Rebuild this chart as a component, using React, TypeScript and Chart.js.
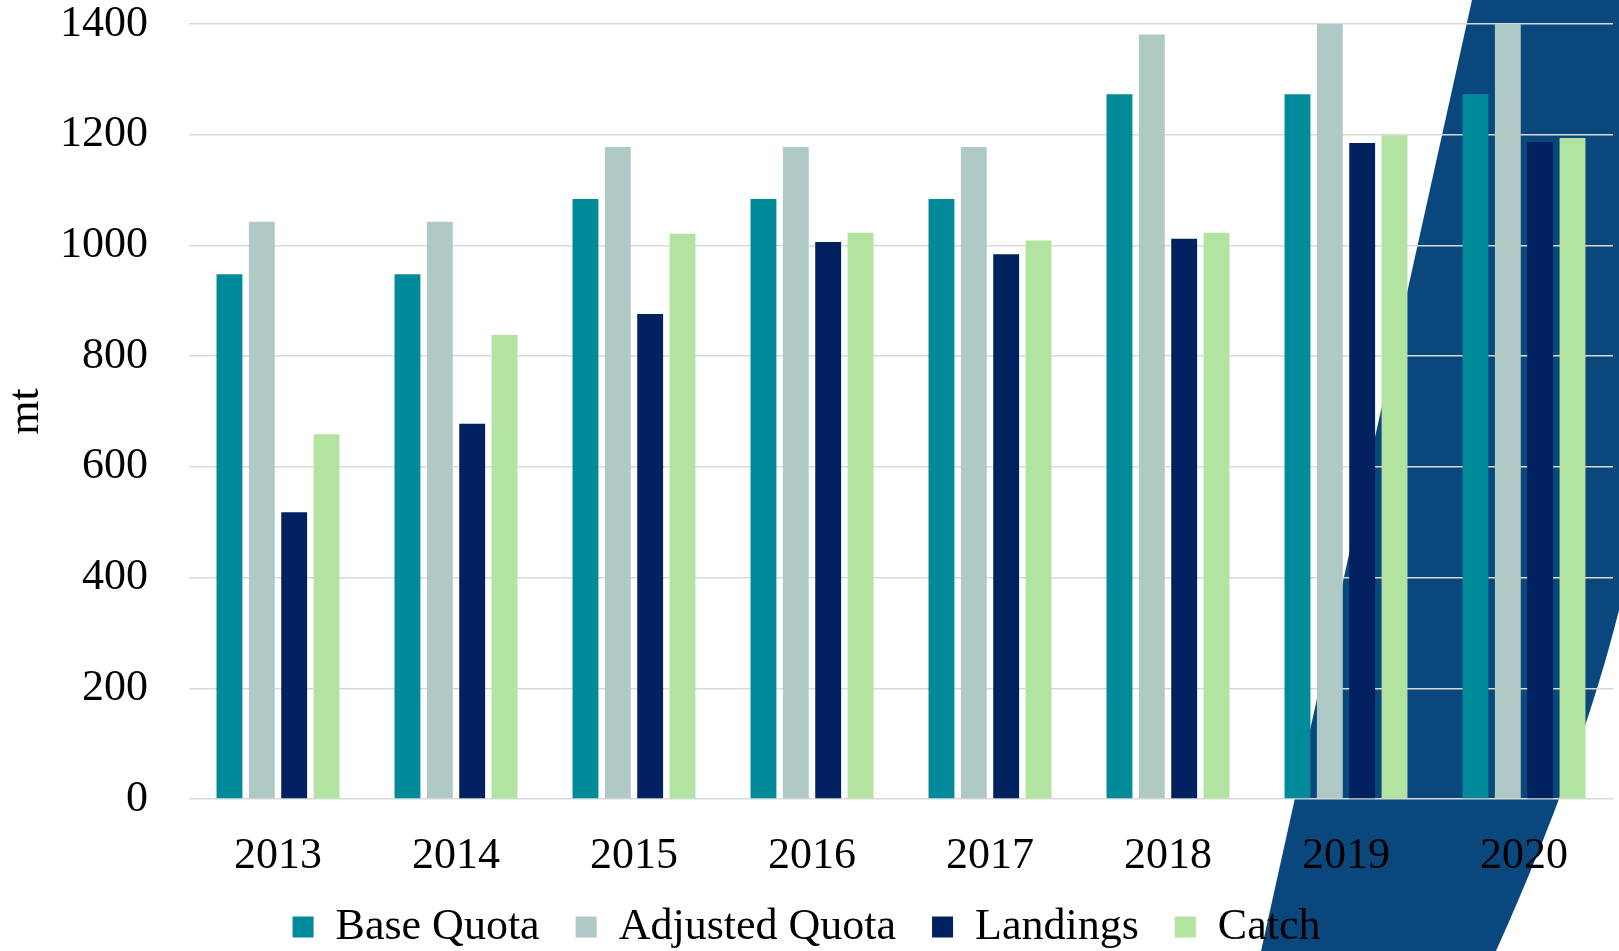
import React, { useEffect, useRef } from "react";
import { Chart, registerables } from "chart.js";

Chart.register(...registerables);

const categories = ["2013", "2014", "2015", "2016", "2017", "2018", "2019", "2020"];
const baseQuota = [948, 948, 1084, 1084, 1084, 1273, 1273, 1273];
const adjustedQuota = [1043, 1043, 1178, 1178, 1178, 1381, 1400, 1400];
const landings = [518, 678, 876, 1006, 984, 1012, 1185, 1187];
const catchValues = [659, 838, 1021, 1023, 1009, 1023, 1199, 1194];
const seriesNames = ["Base Quota", "Adjusted Quota", "Landings", "Catch"];
const seriesColors = ["#008A9A", "#AFCAC5", "#012160", "#B3E3A0"];
const yMin = 0;
const yMax = 1400;
const yStep = 200;
const yTitle = "mt";

const FONT_FAMILY = "'Liberation Serif', 'Times New Roman', serif";

const backdropPlugin = {
  id: "backdrop",
  beforeDraw(chart: any) {
    const { ctx, width: w, height: h } = chart;
    ctx.save();
    ctx.fillStyle = "#ffffff";
    ctx.fillRect(0, 0, w, h);
    ctx.fillStyle = "#09477D";
    ctx.beginPath();
    ctx.moveTo(w * 0.9092, 0);
    ctx.lineTo(w, 0);
    ctx.lineTo(w, h * 0.6414);
    ctx.quadraticCurveTo(w * 0.9765, h * 0.8013, w * 0.924, h);
    ctx.lineTo(w * 0.7789, h);
    ctx.closePath();
    ctx.fill();
    ctx.restore();
  },
};

export default function App() {
  const canvasRef = useRef<HTMLCanvasElement | null>(null);

  useEffect(() => {
    const canvas = canvasRef.current;
    if (!canvas) return;
    const seriesData = [baseQuota, adjustedQuota, landings, catchValues];
    const chart = new Chart(canvas, {
      type: "bar",
      data: {
        labels: categories,
        datasets: seriesNames.map((name, i) => ({
          label: name,
          data: seriesData[i],
          backgroundColor: seriesColors[i],
          borderWidth: 0,
          categoryPercentage: 0.727,
          barPercentage: 0.8,
        })),
      },
      options: {
        responsive: false,
        animation: false,
        devicePixelRatio: 1,
        layout: { padding: { left: 0, right: 6, top: 0, bottom: 0 } },
        plugins: {
          tooltip: { enabled: false },
          legend: {
            position: "bottom",
            maxHeight: 82,
            labels: {
              font: { family: FONT_FAMILY, size: 44, lineHeight: 1.0 },
              color: "#000000",
              boxWidth: 21,
              boxHeight: 21,
              padding: 36,
            },
          },
        },
        scales: {
          x: {
            grid: { display: false, drawTicks: false },
            border: { display: false },
            ticks: {
              font: { family: FONT_FAMILY, size: 44, lineHeight: 1.0 },
              color: "#000000",
              padding: 35,
            },
            afterFit(scale: any) {
              scale.height = 70;
            },
          },
          y: {
            min: yMin,
            max: yMax,
            ticks: {
              stepSize: yStep,
              font: { family: FONT_FAMILY, size: 44, lineHeight: 1.0 },
              color: "#000000",
              padding: 41,
              callback: (v: any) => String(v),
            },
            grid: { color: "#D9D9D9", lineWidth: 1.5, drawTicks: false },
            border: { display: false },
            title: {
              display: true,
              text: yTitle,
              font: { family: FONT_FAMILY, size: 44, lineHeight: 1.2 },
              color: "#000000",
              padding: 0,
            },
            afterFit(scale: any) {
              scale.width = 189;
              scale.paddingTop = 24;
              scale.paddingBottom = 0;
            },
          },
        },
      },
      plugins: [backdropPlugin],
    });
    return () => chart.destroy();
  }, []);

  return (
    <div style={{ position: "fixed", left: 0, top: 0, width: 1619, height: 951, overflow: "hidden" }}>
      <canvas ref={canvasRef} width={1619} height={951} style={{ display: "block" }} />
    </div>
  );
}
